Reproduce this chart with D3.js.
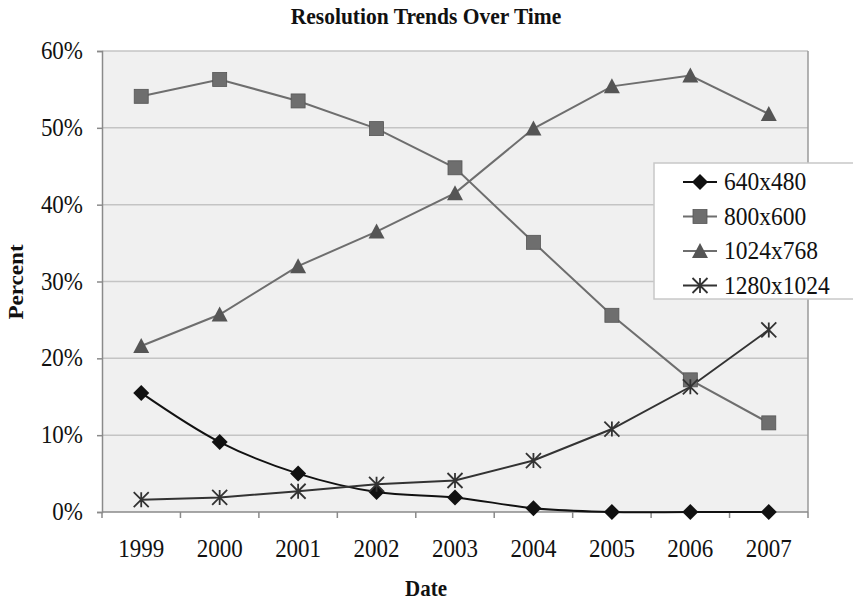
<!DOCTYPE html>
<html>
<head>
<meta charset="utf-8">
<script src="https://cdn.jsdelivr.net/npm/d3@7"></script>
<style>
  html, body { margin: 0; padding: 0; background: #ffffff; }
  svg { display: block; font-family: "Liberation Serif", "Times New Roman", serif; }
</style>
</head>
<body>
<svg id="chart" width="853" height="600"></svg>
<script>
// Screen resolution shares by year (percent)
const years = ["1999", "2000", "2001", "2002", "2003", "2004", "2005", "2006", "2007"];
const res640 = [15.5, 9.1, 5.0, 2.6, 1.9, 0.5, 0, 0, 0];
const res800 = [54.1, 56.3, 53.5, 49.9, 44.8, 35.1, 25.6, 17.2, 11.6];
const res1024 = [21.6, 25.7, 32.0, 36.5, 41.5, 49.9, 55.4, 56.8, 51.8];
const res1280 = [1.6, 1.9, 2.7, 3.6, 4.1, 6.7, 10.8, 16.3, 23.7];
const yTicks = [0, 10, 20, 30, 40, 50, 60];

const series = [
  { name: "640x480", values: res640, color: "#111111", marker: "diamond", smooth: true },
  { name: "800x600", values: res800, color: "#6e6e6e", marker: "square", smooth: false },
  { name: "1024x768", values: res1024, color: "#6e6e6e", marker: "triangle", smooth: false },
  { name: "1280x1024", values: res1280, color: "#333333", marker: "star", smooth: false }
];

const svg = d3.select("#chart");
const m = { left: 102, right: 808, top: 51, bottom: 512 };
const TALL = 1.1; // glyphs are drawn slightly taller than wide

const x = d3.scaleBand().domain(years).range([m.left, m.right]);
const y = d3.scaleLinear().domain([0, 60]).range([m.bottom, m.top]);

// text helper: places text at (tx, ty) baseline with vertical stretch
function label(parent, tx, ty, str, opts) {
  const o = Object.assign({ size: 22, anchor: "start", weight: "normal", rotate: 0 }, opts || {});
  const g = parent.append("g")
    .attr("transform", o.rotate
      ? `translate(${tx},${ty}) rotate(${o.rotate}) scale(${TALL},1)`
      : `translate(${tx},${ty}) scale(1,${TALL})`);
  g.append("text").attr("text-anchor", o.anchor).attr("font-size", o.size)
    .attr("font-weight", o.weight).attr("fill", "#111").text(str);
  return g;
}

// plot area
svg.append("rect")
  .attr("x", m.left).attr("y", m.top)
  .attr("width", m.right - m.left).attr("height", m.bottom - m.top)
  .attr("fill", "#f0f0f0");

// horizontal gridlines
svg.append("g").selectAll("line").data(yTicks.filter(d => d > 0)).join("line")
  .attr("x1", m.left).attr("x2", m.right)
  .attr("y1", d => y(d)).attr("y2", d => y(d))
  .attr("stroke", "#c4c4c4").attr("stroke-width", 1.5);

// right border
svg.append("line")
  .attr("x1", m.right).attr("x2", m.right).attr("y1", m.top).attr("y2", m.bottom)
  .attr("stroke", "#9a9a9a").attr("stroke-width", 1.5);

// y axis
const yAxis = d3.axisLeft(y).tickValues(yTicks).tickFormat("").tickSize(5);
const gy = svg.append("g").attr("transform", `translate(${m.left},0)`).call(yAxis);
gy.select(".domain").attr("stroke", "#8a8a8a").attr("stroke-width", 1.5);
gy.selectAll(".tick line").attr("stroke", "#8a8a8a").attr("stroke-width", 1.5);
yTicks.forEach(t => label(svg, 83, y(t) + 8, t + "%", { size: 23, anchor: "end" }));

// x axis with ticks between categories
const gx = svg.append("g").attr("transform", `translate(0,${m.bottom})`);
gx.append("line").attr("x1", m.left).attr("x2", m.right).attr("y1", 0).attr("y2", 0)
  .attr("stroke", "#8a8a8a").attr("stroke-width", 1.5);
const bounds = years.map(d => x(d)).concat([x(years[years.length - 1]) + x.bandwidth()]);
gx.selectAll("line.tk").data(bounds).join("line").attr("class", "tk")
  .attr("x1", d => d).attr("x2", d => d).attr("y1", 0).attr("y2", 6)
  .attr("stroke", "#8a8a8a").attr("stroke-width", 1.5);
years.forEach(yr => label(svg, x(yr) + x.bandwidth() / 2, m.bottom + 44.5, yr, { size: 23, anchor: "middle" }));

// titles
label(svg, 426, 24, "Resolution Trends Over Time", { size: 21.5, anchor: "middle", weight: "bold" });
label(svg, 426, 596, "Date", { size: 21, anchor: "middle", weight: "bold" });
label(svg, 23, 282, "Percent", { size: 21, anchor: "middle", weight: "bold", rotate: -90 });

// marker drawing
function drawMarker(g, type, color) {
  if (type === "diamond") {
    g.append("path").attr("d", "M0,-8L8,0L0,8L-8,0Z").attr("fill", color);
  } else if (type === "square") {
    g.append("rect").attr("x", -7).attr("y", -7).attr("width", 14).attr("height", 14)
      .attr("fill", color).attr("stroke", "#555").attr("stroke-width", 0.8);
  } else if (type === "triangle") {
    g.append("path").attr("d", "M0,-8L8,7L-8,7Z").attr("fill", "#555555");
  } else if (type === "star") {
    const s = 7.5;
    g.append("path").attr("d", `M0,${-s}V${s}M${-s},${-s}L${s},${s}M${s},${-s}L${-s},${s}`)
      .attr("stroke", color).attr("stroke-width", 1.8).attr("fill", "none");
  }
}

const cx = d => x(d) + x.bandwidth() / 2;

series.forEach(s => {
  const pts = years.map((yr, i) => [cx(yr), y(s.values[i])]);
  const line = d3.line().curve(s.smooth ? d3.curveCatmullRom.alpha(0.5) : d3.curveLinear);
  svg.append("path").attr("d", line(pts)).attr("fill", "none")
    .attr("stroke", s.color).attr("stroke-width", 2);
});
series.forEach(s => {
  years.forEach((yr, i) => {
    const g = svg.append("g").attr("transform", `translate(${cx(yr)},${y(s.values[i])})`);
    drawMarker(g, s.marker, s.color);
  });
});

// legend
const lg = svg.append("g");
lg.append("rect").attr("x", 654).attr("y", 163).attr("width", 205).attr("height", 136)
  .attr("fill", "#ffffff").attr("stroke", "#c8c8c8").attr("stroke-width", 1.5);
series.forEach((s, i) => {
  const yy = 182 + i * 34.5;
  lg.append("line").attr("x1", 683).attr("x2", 717).attr("y1", yy).attr("y2", yy)
    .attr("stroke", s.color).attr("stroke-width", 2);
  drawMarker(lg.append("g").attr("transform", `translate(700,${yy})`), s.marker, s.color);
  label(lg, 724, yy + 8, s.name, { size: 23.5 });
});
</script>
</body>
</html>
